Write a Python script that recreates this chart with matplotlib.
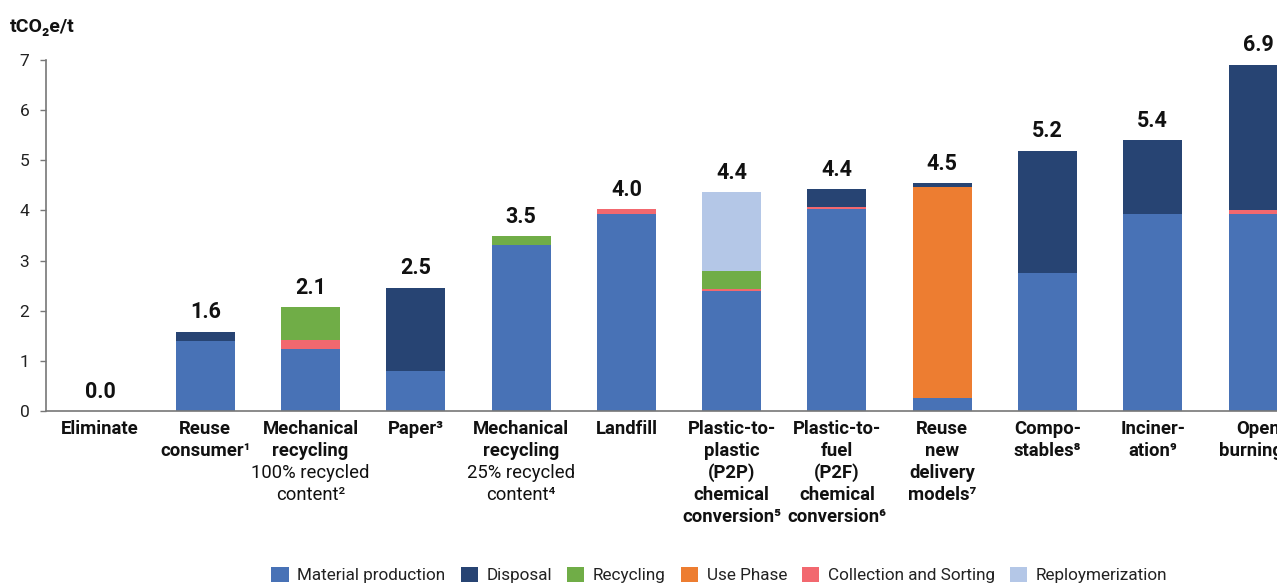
import matplotlib
matplotlib.use("Agg")
import matplotlib.pyplot as plt
import matplotlib.transforms as mtransforms
from matplotlib.patches import Patch
import numpy as np

plt.rcParams['font.family'] = ['Roboto', 'DejaVu Sans']

# category labels: bold part and optional normal-weight sub text
categories = ["Eliminate", "Reuse\nconsumer¹", "Mechanical\nrecycling", "Paper³",
              "Mechanical\nrecycling", "Landfill", "Plastic-to-\nplastic\n(P2P)\nchemical\nconversion⁵",
              "Plastic-to-\nfuel\n(P2F)\nchemical\nconversion⁶", "Reuse\nnew\ndelivery\nmodels⁷",
              "Compo-\nstables⁸", "Inciner-\nation⁹", "Open\nburning¹⁰"]
sub_labels = ["", "", "100% recycled\ncontent²", "", "25% recycled\ncontent⁴", "",
              "", "", "", "", "", ""]

# tCO2e per tonne, by life-cycle stage
material = [0, 1.40, 1.24, 0.80, 3.31, 3.93, 2.39, 4.03, 0.26, 2.76, 3.93, 3.92]
collection = [0, 0, 0.18, 0, 0, 0.10, 0.04, 0.03, 0, 0, 0, 0.08]
recycling = [0, 0, 0.65, 0, 0.18, 0, 0.36, 0, 0, 0, 0, 0]
use_phase = [0, 0, 0, 0, 0, 0, 0, 0, 4.20, 0, 0, 0]
repolymerization = [0, 0, 0, 0, 0, 0, 1.58, 0, 0, 0, 0, 0]
disposal = [0, 0.18, 0, 1.66, 0, 0, 0, 0.36, 0.08, 2.43, 1.47, 2.91]

colors = {
    "Material production": "#4872b6",
    "Disposal": "#274473",
    "Recycling": "#70ad47",
    "Use Phase": "#ed7d31",
    "Collection and Sorting": "#f2686f",
    "Reploymerization": "#b4c7e7",
}

stack = [("Material production", material), ("Collection and Sorting", collection),
         ("Recycling", recycling), ("Use Phase", use_phase),
         ("Reploymerization", repolymerization), ("Disposal", disposal)]

fig = plt.figure(figsize=(12.77, 5.83), dpi=100)
ax = fig.add_axes([46 / 1277, 172 / 583, 1 - 46 / 1277, 351 / 583])

x = np.arange(len(categories))
bottom = np.zeros(len(categories))
for name, vals in stack:
    vals = np.array(vals)
    ax.bar(x, vals, 0.56, bottom=bottom, color=colors[name], linewidth=0)
    bottom += vals

# totals on top of each bar
for xi, tot in zip(x, bottom):
    ax.annotate(f"{tot:.1f}", (xi, tot), xytext=(0, 6), textcoords="offset points",
                ha="center", va="bottom", fontsize=15.5, fontweight="bold", color="#111111")

ax.set_xlim(-0.513, 11.18)
ax.set_ylim(0, 7)
ax.set_yticks(range(0, 8))
ax.tick_params(axis="y", length=4, width=1, color="#777777", labelsize=12.5,
               labelcolor="#222222", pad=8)
ax.set_xticks([])
for s in ["top", "right"]:
    ax.spines[s].set_visible(False)
for s in ["left", "bottom"]:
    ax.spines[s].set_color("#777777")
    ax.spines[s].set_linewidth(1.2)

# category labels under the axis, one line at a time
base = ax.get_xaxis_transform()
for xi, lab, sub in zip(x, categories, sub_labels):
    lines = [(t, "bold") for t in lab.split("\n")]
    if sub:
        lines += [(t, "normal") for t in sub.split("\n")]
    for i, (t, w) in enumerate(lines):
        tr = mtransforms.offset_copy(base, fig=fig, y=-(23 + 22 * i), units="dots")
        ax.text(xi, 0, t, transform=tr, ha="center", va="baseline",
                fontsize=13.3, fontweight=w, color="#111111", clip_on=False)

fig.text(10 / 1277, 1 - 32 / 583, "tCO₂e/t", fontsize=14, fontweight="bold",
         ha="left", va="baseline", color="#111111")

order = ["Material production", "Disposal", "Recycling", "Use Phase",
         "Collection and Sorting", "Reploymerization"]
handles = [Patch(facecolor=colors[n], label=n) for n in order]
fig.legend(handles=handles, loc="center", bbox_to_anchor=(719.5 / 1277, 8 / 583),
           ncol=6, frameon=False, fontsize=12.3, handlelength=1.0, handleheight=1.0,
           handletextpad=0.5, columnspacing=0.9, labelcolor="#222222")

fig.savefig("out.png", dpi=100)
